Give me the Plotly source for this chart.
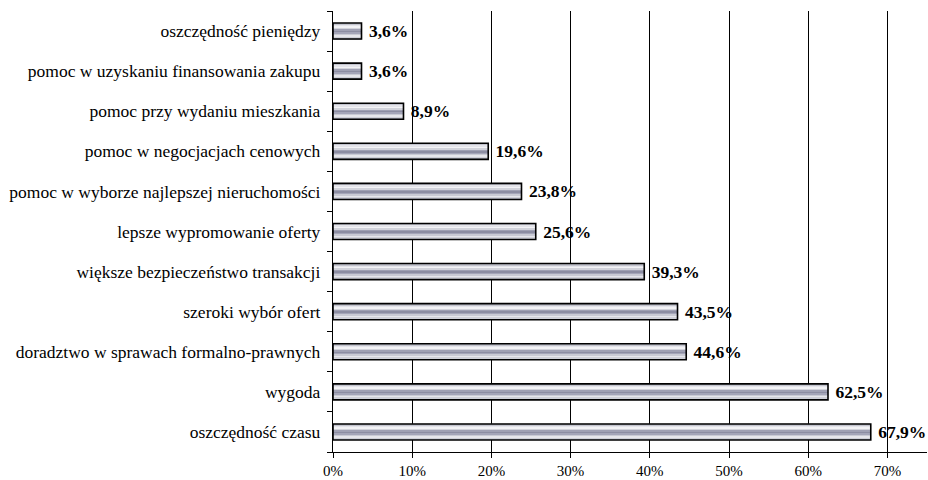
import plotly.graph_objects as go

# Reasons for using a real-estate agent, share of respondents (%)
categories = [
    "oszczędność czasu",
    "wygoda",
    "doradztwo w sprawach formalno-prawnych",
    "szeroki wybór ofert",
    "większe bezpieczeństwo transakcji",
    "lepsze wypromowanie oferty",
    "pomoc w wyborze najlepszej nieruchomości",
    "pomoc w negocjacjach cenowych",
    "pomoc przy wydaniu mieszkania",
    "pomoc w uzyskaniu finansowania zakupu",
    "oszczędność pieniędzy",
]
values = [67.9, 62.5, 44.6, 43.5, 39.3, 25.6, 23.8, 19.6, 8.9, 3.6, 3.6]
x_ticks = [0, 10, 20, 30, 40, 50, 60, 70]
x_tick_labels = [f"{v}%" for v in x_ticks]

serif = "Times New Roman"
bar_thickness = 0.40

# Metallic shading, bottom stripe first -> top stripe last
shade = [
    "#b7b8c4", "#cfd0d8", "#e6e6eb", "#c9cad4", "#a4a5b8",
    "#8c8da2", "#9fa0b3", "#d2d3db", "#f3f3f6", "#e4e4ea", "#c3c4ce",
]

fig = go.Figure()

n = len(shade)
step = bar_thickness / n
for k, col in enumerate(shade):
    fig.add_trace(go.Bar(
        y=categories,
        x=values,
        orientation="h",
        width=step * 1.05,
        offset=-bar_thickness / 2 + k * step,
        marker=dict(color=col, line=dict(width=0)),
        textposition="none",
        hoverinfo="skip",
        showlegend=False,
    ))

# Outline and value labels on top of the shading
fig.add_trace(go.Bar(
    y=categories,
    x=values,
    orientation="h",
    width=bar_thickness,
    marker=dict(color="rgba(0,0,0,0)", line=dict(color="black", width=1.6)),
    texttemplate=" <b>%{x:.1f}%</b>",
    textposition="outside",
    constraintext="none",
    textfont=dict(family=serif, size=17.5, color="black"),
    cliponaxis=False,
    showlegend=False,
))

fig.update_layout(
    barmode="overlay",
    width=928,
    height=480,
    margin=dict(l=333, r=1, t=11, b=25),
    paper_bgcolor="white",
    plot_bgcolor="white",
    separators=", ",
    font=dict(family=serif, size=17, color="black"),
    xaxis=dict(
        range=[0, 75],
        tickmode="array",
        tickvals=x_ticks,
        ticktext=x_tick_labels,
        showgrid=True,
        gridcolor="black",
        gridwidth=1.4,
        showline=True,
        linecolor="black",
        linewidth=1.3,
        ticks="outside",
        ticklen=5,
        tickcolor="black",
        tickfont=dict(family=serif, size=15),
        zeroline=False,
        fixedrange=True,
    ),
    yaxis=dict(
        categoryorder="array",
        categoryarray=categories,
        showline=True,
        linecolor="black",
        linewidth=1.3,
        ticks="outside",
        tickson="boundaries",
        ticklen=5,
        tickcolor="black",
        tickfont=dict(family=serif, size=17.5),
        ticklabelstandoff=8,
        showgrid=False,
        fixedrange=True,
    ),
)

fig.write_html("out.html")
